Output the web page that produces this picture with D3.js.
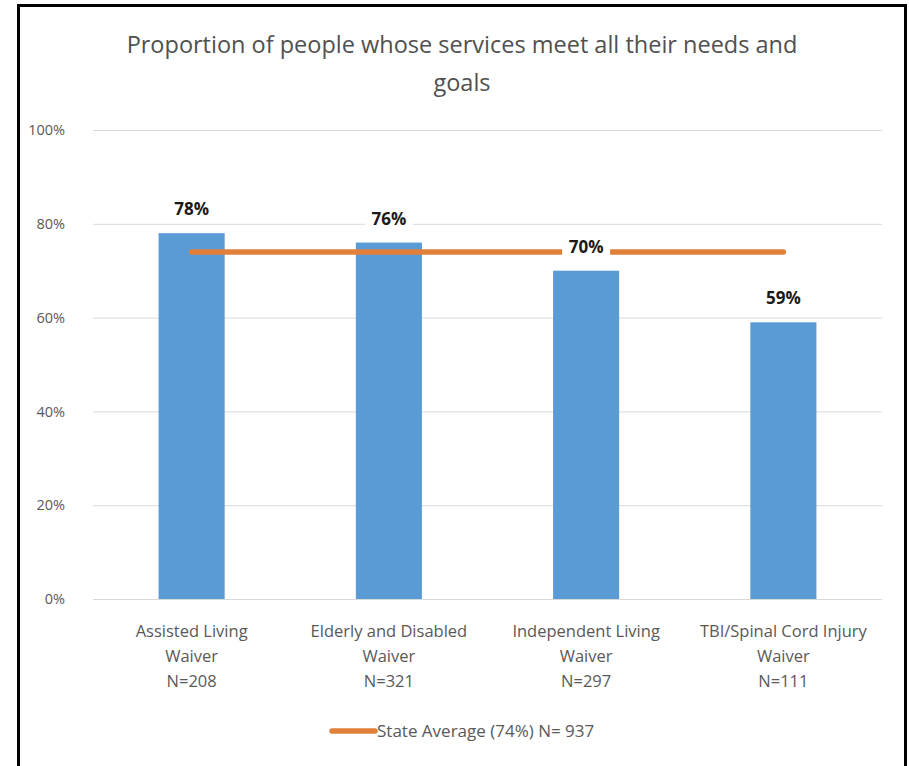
<!DOCTYPE html>
<html>
<head>
<meta charset="utf-8">
<script src="https://cdn.jsdelivr.net/npm/d3@7"></script>
<style>
  html, body { margin: 0; padding: 0; background: #fff; }
  svg { display: block; }
</style>
</head>
<body>
<svg id="chart" width="909" height="766"></svg>
<script>
// Waiver programs (category name lines) and sample sizes
const categories = [
  ["Assisted Living", "Waiver", "N=208"],
  ["Elderly and Disabled", "Waiver", "N=321"],
  ["Independent Living", "Waiver", "N=297"],
  ["TBI/Spinal Cord Injury", "Waiver", "N=111"]
];
// Share of people whose services meet all their needs and goals (%)
const values = [78, 76, 70, 59];
// Statewide average (%), drawn as a line across all programs
const stateAverage = [74, 74, 74, 74];
const yTicks = [0, 20, 40, 60, 80, 100];
const titleLines = ["Proportion of people whose services meet all their needs and", "goals"];
const legendLabel = "State Average (74%) N= 937";

const svg = d3.select("#chart");
const font = "'Open Sans', 'Noto Sans', sans-serif";
const gray = "#595959";

// Frame around the chart
svg.append("path")
  .attr("d", "M18.5,766 L18.5,5.5 L905.5,5.5 L905.5,766")
  .attr("fill", "none").attr("stroke", "#000").attr("stroke-width", 3);

const plot = { left: 93, right: 882, top: 130, bottom: 599 };

const x = d3.scaleBand()
  .domain(d3.range(categories.length))
  .range([plot.left, plot.right])
  .paddingInner(0.665).paddingOuter(0.3325);

const y = d3.scaleLinear().domain([0, 100]).range([plot.bottom, plot.top]);

// Title
svg.append("g").selectAll("text").data(titleLines).join("text")
  .attr("x", 462).attr("y", (d, i) => 53 + i * 38)
  .attr("text-anchor", "middle")
  .attr("font-family", font).attr("font-size", 23.5)
  .attr("fill", "#505050")
  .text(d => d);

// Gridlines and y axis labels
const yAxis = d3.axisLeft(y).tickValues(yTicks)
  .tickSize(-(plot.right - plot.left)).tickFormat(d => d + "%");
const gy = svg.append("g").attr("transform", `translate(${plot.left},0)`).call(yAxis);
gy.select(".domain").remove();
gy.selectAll(".tick line").attr("stroke", "#d9d9d9").attr("stroke-width", 1);
gy.selectAll(".tick text")
  .attr("x", -28).attr("fill", gray)
  .attr("font-family", font).attr("font-size", 14.5);

// Bars
svg.append("g").selectAll("rect").data(values).join("rect")
  .attr("x", (d, i) => x(i))
  .attr("y", d => y(d))
  .attr("width", x.bandwidth())
  .attr("height", d => y(0) - y(d))
  .attr("fill", "#5B9BD5");

// State average line
const cx = i => x(i) + x.bandwidth() / 2;
const line = d3.line().x((d, i) => cx(i)).y(d => y(d));
svg.append("path")
  .datum(stateAverage)
  .attr("d", line)
  .attr("fill", "none")
  .attr("stroke", "#E0803A")
  .attr("stroke-width", 5.5)
  .attr("stroke-linecap", "round");

// Value labels on a white box above each bar
const labels = svg.append("g").selectAll("g").data(values).join("g")
  .attr("transform", (d, i) => `translate(${cx(i)},${y(d) - 24})`);
labels.append("rect")
  .attr("x", -24).attr("y", -12).attr("width", 48).attr("height", 24)
  .attr("fill", "#fff");
labels.append("text")
  .attr("text-anchor", "middle").attr("dy", "0.36em")
  .attr("font-family", font).attr("font-size", 17).attr("font-weight", "bold")
  .attr("fill", "#1a1a1a")
  .text(d => d + "%");

// Category labels
const xl = svg.append("g").selectAll("text").data(categories).join("text")
  .attr("text-anchor", "middle")
  .attr("font-family", font).attr("font-size", 16.5)
  .attr("fill", gray);
xl.selectAll("tspan").data(d => d).join("tspan")
  .attr("x", function () { return cx(categories.indexOf(d3.select(this.parentNode).datum())); })
  .attr("y", (d, i) => 637 + i * 25)
  .text(d => d);

// Legend
const lg = svg.append("g").attr("transform", "translate(330,731)");
lg.append("line").attr("x1", 2).attr("x2", 45).attr("y1", 0).attr("y2", 0)
  .attr("stroke", "#E0803A").attr("stroke-width", 5.5).attr("stroke-linecap", "round");
lg.append("text").attr("x", 47).attr("dy", "0.36em")
  .attr("font-family", font).attr("font-size", 17).attr("fill", gray)
  .text(legendLabel);
</script>
</body>
</html>
